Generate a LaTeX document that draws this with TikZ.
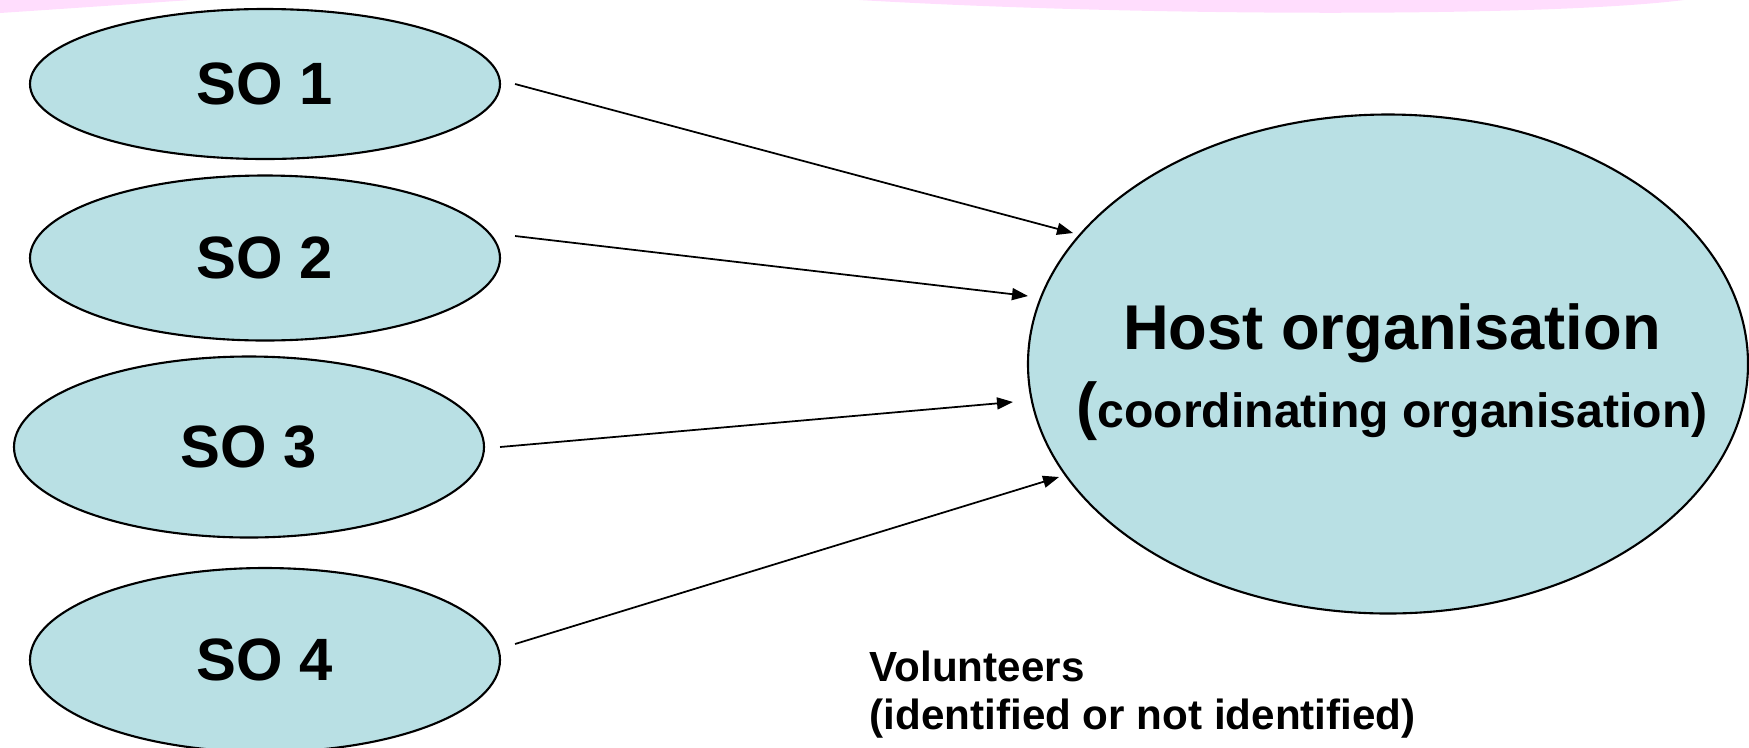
\documentclass[tikz,border=0pt]{standalone}
\usepackage{fontspec}
\setmainfont{Liberation Sans}
\usepackage{xcolor}
\usepackage{tikz}
\usetikzlibrary{shapes,arrows.meta,positioning,calc}

\definecolor{sofill}{RGB}{185,224,228}
\definecolor{bandpink}{RGB}{255,221,253}

\tikzset{
  so/.style={ellipse, draw, line width=0.6pt, fill=sofill, inner sep=0pt,
    minimum width=4.70cm, font=\bfseries\fontsize{17}{20}\selectfont},
  link/.style={line width=0.5pt, -{Triangle[length=0.16cm,width=0.12cm]}}
}

\begin{document}
\begin{tikzpicture}
    \useasboundingbox (0,0) rectangle (17.49,-7.47);
    % pink band at the top
    \fill[bandpink] (0,0) -- (1.90,0) .. controls (1.2,-0.05) and (0.6,-0.09) .. (0,-0.13) -- cycle;
    \fill[bandpink] (8.59,0) .. controls (11.5,-0.17) and (15.5,-0.17) .. (16.84,0) -- cycle;

    \node[so, minimum height=1.50cm] (so1) at (2.65,-0.84) {SO 1};
    \node[so, minimum height=1.65cm] (so2) at (2.65,-2.58) {SO 2};
    \node[so, minimum height=1.81cm] (so3) at (2.49,-4.47) {SO 3};
    \node[so, minimum height=1.84cm] (so4) at (2.65,-6.60) {SO 4};

    \node[ellipse, draw, line width=0.6pt, fill=sofill, inner sep=0pt,
      minimum width=7.20cm, minimum height=4.99cm] (host) at (13.88,-3.64) {};
    \node[align=center, inner sep=0pt,
      font=\bfseries\fontsize{18}{22}\selectfont] (hosttext) at (13.92,-3.72)
      {Host organisation\\(\fontsize{13.7}{22}\selectfont coordinating organisation)};

    \node[anchor=base west, align=left, inner sep=0pt,
      font=\bfseries\fontsize{12}{13.6}\selectfont] (vol) at (8.69,-7.29)
      {Volunteers\\(identified or not identified)};

    \draw[link] ([shift={(0.14,0)}]so1.east) -- ([shift={(-3.15,1.31)}]host.center);
    \draw[link] ([shift={(0.14,0.22)}]so2.east) -- ([shift={(-3.60,0.68)}]host.center);
    \draw[link] ([shift={(0.15,0)}]so3.east) -- ([shift={(-3.75,-0.38)}]host.center);
    \draw[link] ([shift={(0.14,0.16)}]so4.east) -- ([shift={(-3.29,-1.13)}]host.center);
\end{tikzpicture}
\end{document}
